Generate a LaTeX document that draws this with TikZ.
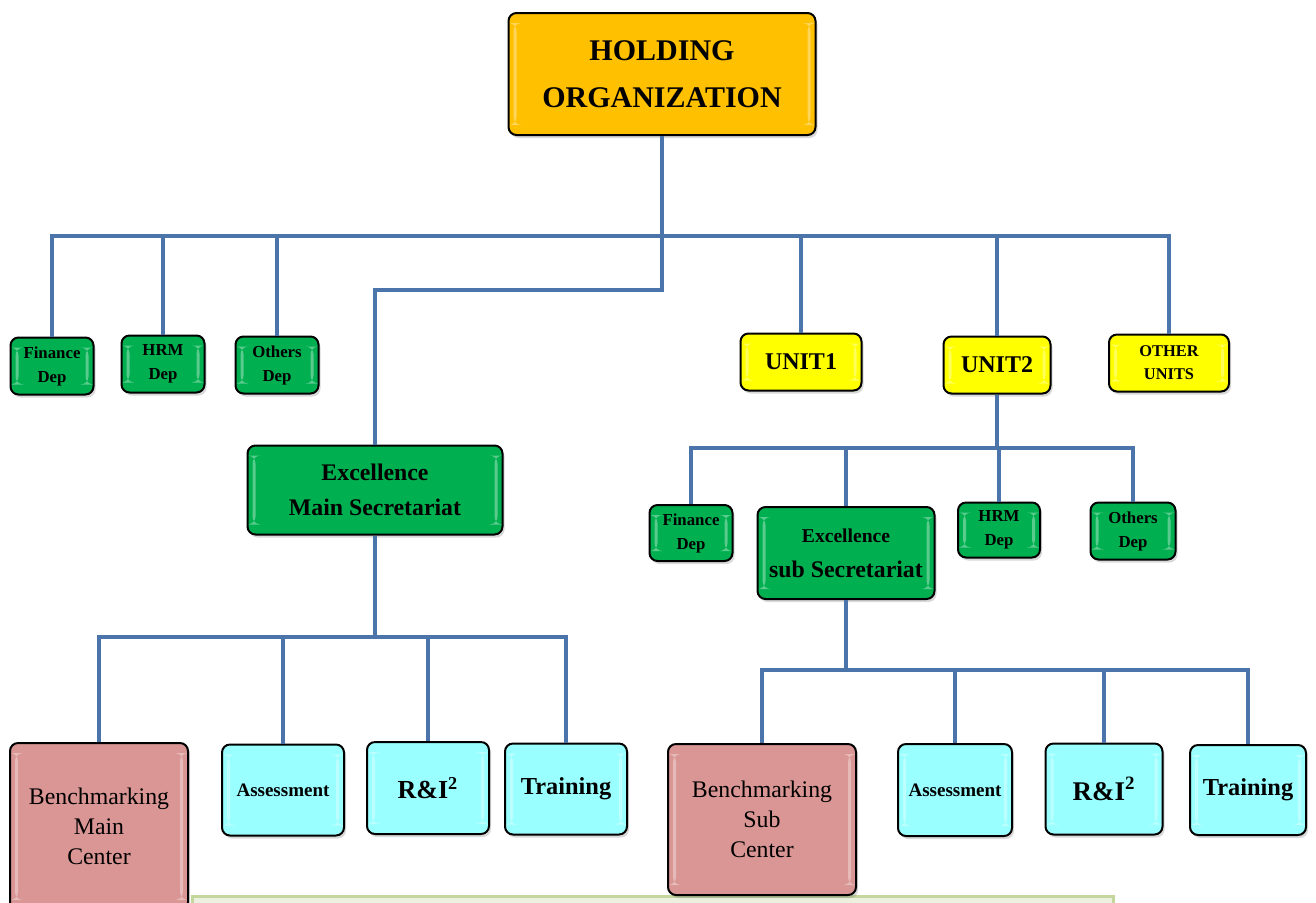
\documentclass[tikz,border=0pt]{standalone}
\usepackage{fontspec}
\setmainfont{Liberation Serif}
\usetikzlibrary{shadows}

\definecolor{orgorange}{HTML}{FFC000}
\definecolor{depgreen}{HTML}{00B050}
\definecolor{unityellow}{HTML}{FFFF00}
\definecolor{benchpink}{HTML}{D99694}
\definecolor{taskcyan}{HTML}{99FFFF}
\definecolor{linkblue}{HTML}{4A74AA}
\definecolor{footfill}{HTML}{EBF1DE}
\definecolor{footdraw}{HTML}{C3D69B}

\tikzset{
  box/.style={draw=black, line width=1pt, rounded corners=4pt, align=center, inner sep=0pt,
    drop shadow={opacity=0.3, shadow xshift=1pt, shadow yshift=-1.5pt},
    path picture={
      \fill[white,opacity=0.35] ([xshift=2.5pt,yshift=-5pt]path picture bounding box.north west)
        rectangle ([xshift=4pt,yshift=5pt]path picture bounding box.south west);
      \fill[white,opacity=0.35] ([xshift=-4pt,yshift=-5pt]path picture bounding box.north east)
        rectangle ([xshift=-2.5pt,yshift=5pt]path picture bounding box.south east);}},
  orgbox/.style={box, fill=orgorange, minimum width=153.5pt, minimum height=61pt,
    font=\fontsize{15}{23.5}\selectfont\bfseries},
  depbox/.style={box, fill=depgreen, minimum width=41.5pt, minimum height=28.5pt,
    font=\fontsize{8.4}{12}\selectfont\bfseries},
  unitbox/.style={box, fill=unityellow, minimum height=28.5pt},
  secbox/.style={box, fill=depgreen, font=\fontsize{11.9}{17.5}\selectfont\bfseries},
  benchbox/.style={box, fill=benchpink, font=\fontsize{11.9}{15}\selectfont},
  taskbox/.style={box, fill=taskcyan, minimum height=45.5pt},
  link/.style={draw=linkblue, line width=2pt},
}

\begin{document}
\begin{tikzpicture}[x=0.5pt,y=-0.5pt]
\useasboundingbox (0,0) rectangle (1316,902);

\draw[fill=footfill,draw=footdraw,line width=1.5pt] (192,896) rectangle (1113,920);

\node[orgbox] (1) at (662,74) {HOLDING\\ORGANIZATION};

\node[depbox] (2) at (52,366) {Finance\\Dep};
\node[depbox] (3) at (163,364) {HRM\\Dep};
\node[depbox] (4) at (277,365) {Others\\Dep};

\node[unitbox, minimum width=60.5pt, font=\fontsize{12}{14}\selectfont\bfseries] (5) at (801,362) {UNIT1};
\node[unitbox, minimum width=53.5pt, font=\fontsize{12}{14}\selectfont\bfseries] (6) at (997,365) {UNIT2};
\node[unitbox, minimum width=60pt, font=\fontsize{8.2}{11.5}\selectfont\bfseries] (7) at (1169,363) {OTHER\\UNITS};

\node[secbox, minimum width=127.5pt, minimum height=44.5pt] (8) at (375,490) {Excellence\\Main Secretariat};

\node[depbox, minimum height=28pt] (9) at (691,533) {Finance\\Dep};
\node[secbox, minimum width=88.5pt, minimum height=46pt] (10) at (846,553)
  {{\fontsize{9.8}{17.5}\selectfont Excellence}\\sub Secretariat};
\node[depbox, minimum width=41pt, minimum height=27.5pt] (11) at (999,530) {HRM\\Dep};
\node[depbox, minimum width=42.5pt] (12) at (1133,531) {Others\\Dep};

\node[benchbox, minimum width=89pt, minimum height=83.5pt] (13) at (99,826.5) {Benchmarking\\Main\\Center};
\node[taskbox, minimum width=61pt, font=\fontsize{9.5}{12}\selectfont\bfseries] (14) at (283,790) {Assessment};
\node[taskbox, minimum width=61pt, minimum height=46pt, font=\fontsize{13}{15}\selectfont\bfseries] (15) at (428,788) {R\&I\textsuperscript{2}};
\node[taskbox, minimum width=61pt, font=\fontsize{12.2}{14}\selectfont\bfseries] (16) at (566,789) {Training};

\node[benchbox, minimum width=94pt, minimum height=75.5pt] (17) at (762,819.5) {Benchmarking\\Sub\\Center};
\node[taskbox, minimum width=57pt, minimum height=46pt, font=\fontsize{9.5}{12}\selectfont\bfseries] (18) at (955,790) {Assessment};
\node[taskbox, minimum width=58.5pt, font=\fontsize{13.5}{15}\selectfont\bfseries] (19) at (1104,789) {R\&I\textsuperscript{2}};
\node[taskbox, minimum width=58pt, minimum height=45pt, font=\fontsize{12.2}{14}\selectfont\bfseries] (20) at (1248,790) {Training};

% bus lines
\coordinate (b1) at (0,236);
\coordinate (b2) at (0,290);
\coordinate (b3) at (0,448);
\coordinate (b4) at (0,637);
\coordinate (b5) at (0,670);

\draw[link] (1.south) -- (1.south |- b1) -| (2.north);
\draw[link] (1.south |- b1) -| (3.north);
\draw[link] (1.south |- b1) -| (4.north);
\draw[link] (1.south |- b1) -| (5.north);
\draw[link] (1.south |- b1) -| (6.north);
\draw[link] (1.south |- b1) -| (7.north);
\draw[link] (1.south) -- (1.south |- b2) -| (8.north);

\draw[link] (6.south) -- (6.south |- b3) -| (9.north);
\draw[link] (6.south |- b3) -| (10.north);
\draw[link] (6.south |- b3) -| (11.north);
\draw[link] (6.south |- b3) -| (12.north);

\draw[link] (8.south) -- (8.south |- b4) -| (13.north);
\draw[link] (8.south |- b4) -| (14.north);
\draw[link] (8.south |- b4) -| (15.north);
\draw[link] (8.south |- b4) -| (16.north);

\draw[link] (10.south) -- (10.south |- b5) -| (17.north);
\draw[link] (10.south |- b5) -| (18.north);
\draw[link] (10.south |- b5) -| (19.north);
\draw[link] (10.south |- b5) -| (20.north);
\end{tikzpicture}
\end{document}
